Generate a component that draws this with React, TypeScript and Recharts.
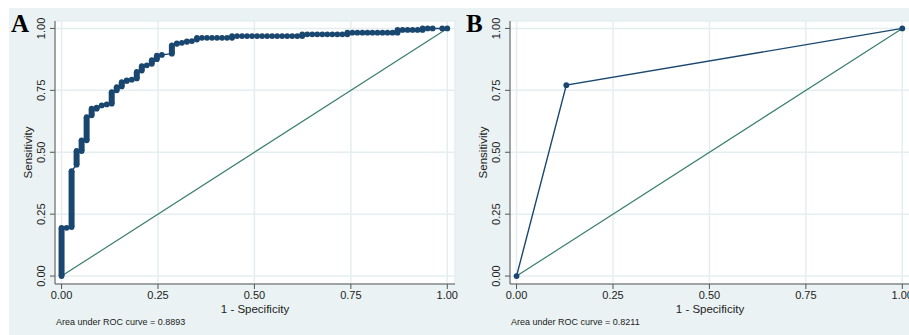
import React from "react";
import { LineChart, Line, XAxis, YAxis, CartesianGrid, Label } from "recharts";

// panel A: empirical ROC steps (false positive rate, sensitivity bottom/top of each step)
const fprA = [
  0.0, 0.013, 0.026, 0.039, 0.052, 0.065, 0.078, 0.091, 0.104, 0.117, 0.13,
  0.143, 0.156, 0.169, 0.182, 0.195, 0.208, 0.221, 0.234, 0.247, 0.26, 0.286,
  0.299, 0.312, 0.325, 0.338, 0.351, 0.364, 0.377, 0.39, 0.403, 0.416, 0.429,
  0.442, 0.455, 0.468, 0.481, 0.494, 0.507, 0.52, 0.533, 0.546, 0.559, 0.572,
  0.585, 0.598, 0.611, 0.624, 0.637, 0.65, 0.663, 0.676, 0.689, 0.702, 0.715,
  0.728, 0.741, 0.754, 0.767, 0.78, 0.793, 0.806, 0.819, 0.832, 0.845, 0.858,
  0.871, 0.884, 0.897, 0.91, 0.923, 0.936, 0.949, 0.962, 0.987, 1.0,
];
const tprLowA = [
  0.0, 0.195, 0.198, 0.45, 0.505, 0.548, 0.649, 0.676, 0.689, 0.693, 0.696,
  0.75, 0.766, 0.788, 0.793, 0.798, 0.83, 0.851, 0.857, 0.876, 0.893, 0.898,
  0.938, 0.942, 0.946, 0.949, 0.955, 0.962, 0.962, 0.962, 0.962, 0.962, 0.962,
  0.962, 0.969, 0.969, 0.969, 0.969, 0.969, 0.969, 0.969, 0.969, 0.969, 0.969,
  0.969, 0.969, 0.969, 0.969, 0.976, 0.976, 0.976, 0.976, 0.976, 0.976, 0.976,
  0.976, 0.976, 0.983, 0.983, 0.983, 0.983, 0.983, 0.983, 0.983, 0.983, 0.983,
  0.983, 0.994, 0.994, 0.994, 0.994, 0.994, 1.0, 1.0, 1.0, 1.0,
];
const tprHighA = [
  0.195, 0.195, 0.424, 0.505, 0.548, 0.642, 0.676, 0.68, 0.689, 0.693, 0.743,
  0.763, 0.783, 0.79, 0.793, 0.824, 0.848, 0.851, 0.872, 0.89, 0.893, 0.931,
  0.94, 0.942, 0.948, 0.949, 0.962, 0.962, 0.962, 0.962, 0.962, 0.962, 0.962,
  0.969, 0.969, 0.969, 0.969, 0.969, 0.969, 0.969, 0.969, 0.969, 0.969, 0.969,
  0.969, 0.969, 0.969, 0.976, 0.976, 0.976, 0.976, 0.976, 0.976, 0.976, 0.976,
  0.976, 0.983, 0.983, 0.983, 0.983, 0.983, 0.983, 0.983, 0.983, 0.983, 0.983,
  0.994, 0.994, 0.994, 0.994, 0.994, 1.0, 1.0, 1.0, 1.0, 1.0,
];

// panel B: single cut point
const fprB = [0, 0.129, 1];
const tprB = [0, 0.771, 1];

const refX = [0, 1];
const refY = [0, 1];
const ticks = [0, 0.25, 0.5, 0.75, 1];
const aucA = "0.8893";
const aucB = "0.8211";

const NAVY = "#1a476f";
const TEAL = "#3a7e6d";
const BG = "#eaf2f3";
const GRID = "#e4eef0";
const FONT = "'Liberation Sans', Arial, sans-serif";

const rocA = fprA.flatMap((x, i) =>
  tprHighA[i] > tprLowA[i]
    ? [{ x, y: tprLowA[i] }, { x, y: tprHighA[i] }]
    : [{ x, y: tprLowA[i] }]
);
// thick vertical runs where many markers sit on top of each other
const stacksA = fprA.flatMap((x, i) =>
  tprHighA[i] - tprLowA[i] > 0.004
    ? [{ x, y: tprLowA[i] }, { x, y: tprHighA[i] }, { x, y: null }]
    : []
);
const rocB = fprB.map((x, i) => ({ x, y: tprB[i] }));
const diag = refX.map((x, i) => ({ x, y: refY[i] }));

const YTick = (props: any) => {
  const { x, y, payload } = props;
  return (
    <text
      x={x}
      y={y}
      transform={`rotate(-90 ${x} ${y})`}
      textAnchor="middle"
      fontSize={11}
      fontFamily={FONT}
      fill="#222"
    >
      {payload.value.toFixed(2)}
    </text>
  );
};

function Panel({ left, letter, auc, stacks, curve }: any) {
  return (
    <div style={{ position: "absolute", left, top: 0, width: 460, height: 335 }}>
      <LineChart
        width={460}
        height={335}
        margin={{ top: 21, right: 5, bottom: 21, left: 15 }}
      >
        <CartesianGrid fill="#fff" stroke={GRID} strokeWidth={1.5} />
        <XAxis
          dataKey="x"
          type="number"
          domain={[-0.017, 1.02]}
          ticks={ticks}
          allowDataOverflow
          height={30}
          tickSize={5}
          tickMargin={2}
          stroke="#555"
          tick={{ fontSize: 11, fontFamily: FONT, fill: "#222" }}
          tickFormatter={(v: number) => v.toFixed(2)}
        >
          <Label
            value="1 - Specificity"
            position="insideBottom"
            offset={1}
            style={{ fontSize: 11.5, fontFamily: FONT, fill: "#222" }}
          />
        </XAxis>
        <YAxis
          type="number"
          domain={[-0.032, 1.03]}
          ticks={ticks}
          allowDataOverflow
          width={40}
          tickSize={5}
          tickMargin={5}
          stroke="#555"
          tick={<YTick />}
        >
          <Label
            value="Sensitivity"
            angle={-90}
            position="insideLeft"
            offset={13}
            style={{ fontSize: 11.5, fontFamily: FONT, fill: "#222", textAnchor: "middle" }}
          />
        </YAxis>
        <Line
          data={diag}
          dataKey="y"
          stroke={TEAL}
          strokeWidth={1.2}
          dot={false}
          isAnimationActive={false}
        />
        {stacks && (
          <Line
            data={stacks}
            dataKey="y"
            stroke={NAVY}
            strokeWidth={6}
            dot={false}
            connectNulls={false}
            isAnimationActive={false}
          />
        )}
        <Line
          data={curve}
          dataKey="y"
          stroke={NAVY}
          strokeWidth={1.4}
          dot={{ r: 2.9, fill: NAVY, stroke: NAVY, strokeWidth: 0 }}
          isAnimationActive={false}
        />
      </LineChart>
      <div
        style={{
          position: "absolute",
          left: 11,
          top: 10,
          fontFamily: "'Liberation Serif', 'Times New Roman', serif",
          fontWeight: "bold",
          fontSize: 25,
          lineHeight: "28px",
          color: "#000",
        }}
      >
        {letter}
      </div>
      <div
        style={{
          position: "absolute",
          left: 56,
          top: 316,
          fontFamily: FONT,
          fontSize: 9,
          lineHeight: "12px",
          color: "#222",
          whiteSpace: "nowrap",
        }}
      >
        Area under ROC curve = {auc}
      </div>
    </div>
  );
}

export default function App() {
  return (
    <div
      style={{
        position: "absolute",
        left: 0,
        top: 0,
        width: 909,
        height: 335,
        overflow: "hidden",
        background: "#fff",
      }}
    >
      <div style={{ position: "absolute", left: 9, top: 8, right: 0, bottom: 0, background: BG }} />
      <Panel left={0} letter="A" auc={aucA} stacks={stacksA} curve={rocA} />
      <Panel left={455} letter="B" auc={aucB} stacks={null} curve={rocB} />
    </div>
  );
}
